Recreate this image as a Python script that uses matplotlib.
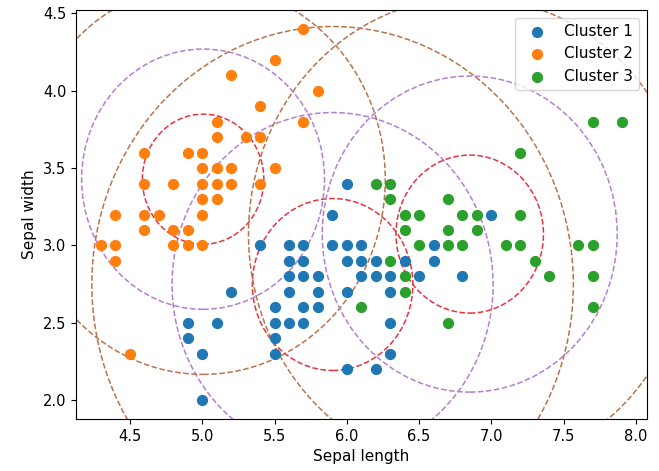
import matplotlib
matplotlib.use("Agg")
import matplotlib.pyplot as plt
from matplotlib.patches import Circle

# Cluster 1 (blue)
c1_x = [5.4, 5.6, 5.7, 5.9, 6.0, 6.1, 6.6, 7.0, 5.9, 6.0,
        5.6, 5.7, 6.0, 6.1, 6.2, 6.4, 6.6,
        5.6, 5.7, 5.8, 6.1, 6.2, 6.3, 6.5, 6.8,
        5.2, 5.6, 5.8, 6.0, 6.3,
        5.5, 5.7, 5.8,
        4.9, 5.1, 5.5, 5.6, 5.7, 6.3,
        4.9, 5.5,
        5.0, 5.5, 6.3,
        6.0, 6.2,
        5.0]
c1_y = [3.0, 3.0, 3.0, 3.0, 3.0, 3.0, 3.0, 3.2, 3.2, 3.4,
        2.9, 2.9, 2.9, 2.9, 2.9, 2.9, 2.9,
        2.8, 2.8, 2.8, 2.8, 2.8, 2.8, 2.8, 2.8,
        2.7, 2.7, 2.7, 2.7, 2.7,
        2.6, 2.6, 2.6,
        2.5, 2.5, 2.5, 2.5, 2.5, 2.5,
        2.4, 2.4,
        2.3, 2.3, 2.3,
        2.2, 2.2,
        2.0]

# Cluster 2 (orange)
c2_x = [5.7, 5.5, 5.2, 5.8, 5.4, 5.7, 5.1, 5.1, 5.3, 5.4,
        4.6, 4.9, 5.0, 5.0, 5.1, 5.2, 5.5,
        4.6, 4.8, 5.0, 5.1, 5.2, 5.4, 5.0, 5.1,
        4.4, 4.6, 4.7, 5.0, 4.6, 4.8, 4.9,
        4.3, 4.4, 4.8, 4.9, 5.0, 4.4, 4.5]
c2_y = [4.4, 4.2, 4.1, 4.0, 3.9, 3.8, 3.8, 3.7, 3.7, 3.7,
        3.6, 3.6, 3.6, 3.5, 3.5, 3.5, 3.5,
        3.4, 3.4, 3.4, 3.4, 3.4, 3.4, 3.3, 3.3,
        3.2, 3.2, 3.2, 3.2, 3.1, 3.1, 3.1,
        3.0, 3.0, 3.0, 3.0, 3.0, 2.9, 2.3]

# Cluster 3 (green)
c3_x = [7.7, 7.9, 7.2, 6.2, 6.3, 6.3, 6.7,
        6.4, 6.5, 6.8, 6.9, 7.2,
        6.4, 6.7, 6.9,
        6.5, 6.7, 6.8, 7.1, 7.2, 7.6, 7.7,
        6.3, 7.3,
        6.4, 7.4, 7.7,
        6.4,
        6.1, 7.7,
        6.7]
c3_y = [3.8, 3.8, 3.6, 3.4, 3.4, 3.3, 3.3,
        3.2, 3.2, 3.2, 3.2, 3.2,
        3.1, 3.1, 3.1,
        3.0, 3.0, 3.0, 3.0, 3.0, 3.0, 3.0,
        2.9, 2.9,
        2.8, 2.8, 2.8,
        2.7,
        2.6, 2.6,
        2.5]

labels = ["Cluster 1", "Cluster 2", "Cluster 3"]
centers_x = [5.9016, 5.006, 6.85]
centers_y = [2.7484, 3.428, 3.0737]
base_radius = [0.555, 0.42, 0.51]
ring_factors = [1, 2, 3]
ring_colors = ["#e8333f", "#b57fd0", "#b8744c"]

fig = plt.figure(figsize=(6.59, 4.71), dpi=100)
ax = fig.add_axes([0.1153, 0.1104, 0.8665, 0.8683])

point_size = 50
ax.scatter(c1_x, c1_y, s=point_size, color="#1f77b4", label=labels[0], zorder=3)
ax.scatter(c2_x, c2_y, s=point_size, color="#ff7f0e", label=labels[1], zorder=3)
ax.scatter(c3_x, c3_y, s=point_size, color="#2ca02c", label=labels[2], zorder=3)

for cx, cy, r in zip(centers_x, centers_y, base_radius):
    for k, col in zip(ring_factors, ring_colors):
        circ = Circle((cx, cy), r * k, fill=False, linestyle="--",
                      edgecolor=col, linewidth=1.1, zorder=2)
        ax.add_artist(circ)

ax.set_xlim(4.127, 8.076)
ax.set_ylim(1.88, 4.52)
ax.set_xticks([4.5, 5.0, 5.5, 6.0, 6.5, 7.0, 7.5, 8.0])
ax.set_yticks([2.0, 2.5, 3.0, 3.5, 4.0, 4.5])
ax.tick_params(labelsize=10.5)
ax.set_xlabel("Sepal length", fontsize=11)
ax.set_ylabel("Sepal width", fontsize=11)
ax.legend(loc="upper right", fontsize=11)

fig.savefig("out.png", dpi=100)
